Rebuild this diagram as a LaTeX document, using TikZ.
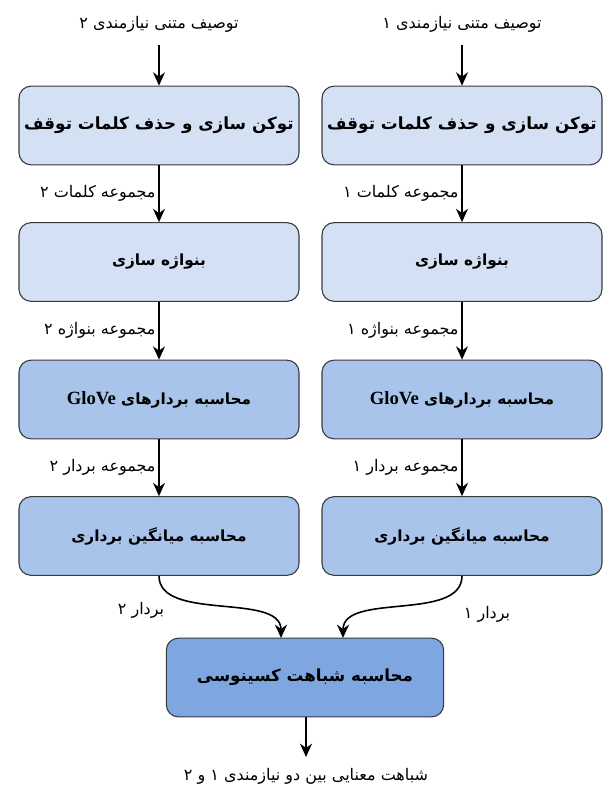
\documentclass[tikz,border=0pt]{standalone}
\usepackage{fontspec}
\setmainfont{DejaVu Sans}
\newfontfamily\fa[Script=Arabic]{DejaVu Sans}
\newfontfamily\latinserif{Liberation Serif}
\TeXXeTstate=1
\usetikzlibrary{arrows.meta}
\definecolor{lightblue}{HTML}{D4E1F5}
\definecolor{midblue}{HTML}{A9C4EB}
\definecolor{deepblue}{HTML}{7EA6E0}
\definecolor{edgegray}{HTML}{36393D}
\newcommand{\glovename}{{\latinserif\bfseries\fontsize{14}{15}\selectfont GloVe}}
\tikzset{
  procbox/.style={draw=edgegray, line width=0.8pt, rounded corners=9pt,
    minimum width=210pt, minimum height=59pt, align=center, inner sep=2pt,
    font=\fa\bfseries\fontsize{11.5}{13}\selectfont},
  lightbox/.style={procbox, fill=lightblue},
  widetext/.style={font=\fa\bfseries\fontsize{12.6}{15}\selectfont},
  medbox/.style={procbox, fill=midblue},
  darkbox/.style={procbox, fill=deepblue, minimum width=208pt,
    font=\fa\bfseries\fontsize{12.5}{15}\selectfont},
  lbl/.style={font=\fa\fontsize{12}{14}\selectfont, inner sep=2pt},
  flow/.style={line width=1.2pt, -{Stealth[length=10pt,width=9pt]}}
}
\begin{document}
\begin{tikzpicture}[x=0.75pt,y=-0.75pt]
\useasboundingbox (0,0) rectangle (608,787);
% top inputs
\node[lbl] (inL) at (159,24) {\beginR توصیف متنی نیازمندی ۲\endR};
\node[lbl] (inR) at (462,24) {\beginR توصیف متنی نیازمندی ۱\endR};
\coordinate (sL) at (159,45);
\coordinate (sR) at (462,45);
% left column
\node[lightbox, widetext] (a1) at (159,125.5) {\beginR توکن سازی و حذف کلمات توقف\endR};
\node[lightbox] (a2) at (159,262) {\beginR بنواژه سازی\endR};
\node[medbox] (a3) at (159,399.5) {\beginR محاسبه بردارهای \beginL\glovename\endL\endR};
\node[medbox] (a4) at (159,536) {\beginR محاسبه میانگین برداری\endR};
% right column
\node[lightbox, widetext] (b1) at (462,125.5) {\beginR توکن سازی و حذف کلمات توقف\endR};
\node[lightbox] (b2) at (462,262) {\beginR بنواژه سازی\endR};
\node[medbox] (b3) at (462,399.5) {\beginR محاسبه بردارهای \beginL\glovename\endL\endR};
\node[medbox] (b4) at (462,536) {\beginR محاسبه میانگین برداری\endR};
% merge box
\node[darkbox] (c) at (305,677.5) {\beginR محاسبه شباهت کسینوسی\endR};
\coordinate (cinL) at (281,638);
\coordinate (cinR) at (343,638);
\node[lbl] (out) at (306,776) {\beginR شباهت معنایی بین دو نیازمندی ۱ و ۲\endR};
\coordinate (oend) at (306,757);
% arrows
\draw[flow] (sL) -- (a1);
\draw[flow] (sR) -- (b1);
\draw[flow] (a1) -- node[lbl, anchor=east] (la1) {\beginR مجموعه کلمات ۲\endR} (a2);
\draw[flow] (b1) -- node[lbl, anchor=east] (lb1) {\beginR مجموعه کلمات ۱\endR} (b2);
\draw[flow] (a2) -- node[lbl, anchor=east] (la2) {\beginR مجموعه بنواژه ۲\endR} (a3);
\draw[flow] (b2) -- node[lbl, anchor=east] (lb2) {\beginR مجموعه بنواژه ۱\endR} (b3);
\draw[flow] (a3) -- node[lbl, anchor=east] (la3) {\beginR مجموعه بردار ۲\endR} (a4);
\draw[flow] (b3) -- node[lbl, anchor=east] (lb3) {\beginR مجموعه بردار ۱\endR} (b4);
\draw[flow] (a4.south) .. controls (159,622) and (281,592) .. (cinL);
\draw[flow] (b4.south) .. controls (462,622) and (343,592) .. (cinR);
\node[lbl] (lc1) at (141,610) {\beginR بردار ۲\endR};
\node[lbl] (lc2) at (487,614) {\beginR بردار ۱\endR};
\draw[flow] (c.south -| oend) -- (oend);
\end{tikzpicture}
\end{document}
